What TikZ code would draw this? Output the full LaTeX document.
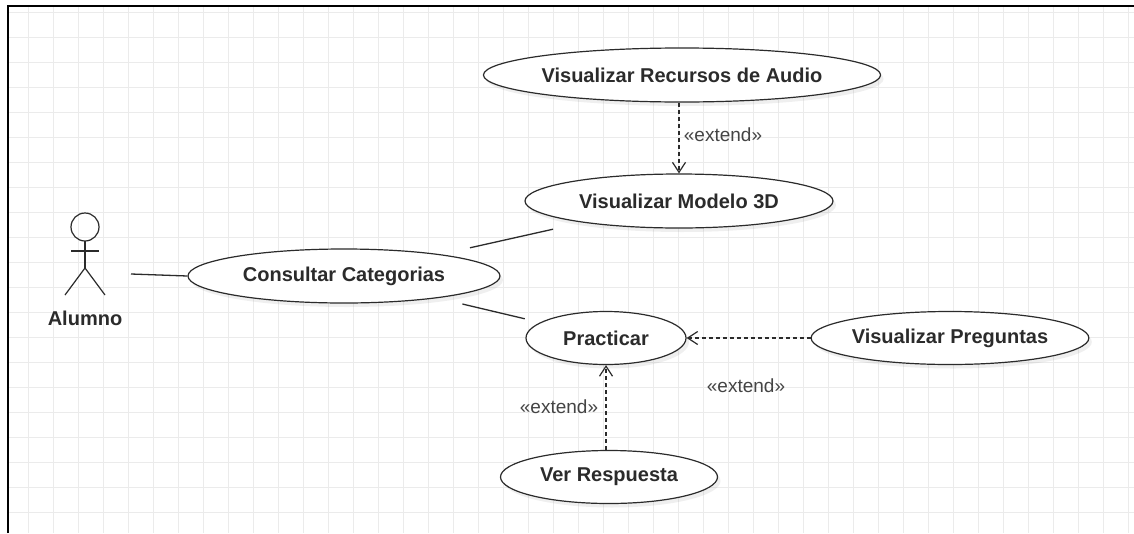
\documentclass[tikz,border=0pt]{standalone}
\usepackage{fontspec}
\setmainfont{Liberation Sans}
\usetikzlibrary{shapes.geometric,arrows.meta,calc,shadows}
\definecolor{gridc}{HTML}{EBEBEB}
\definecolor{ink}{HTML}{2B2B2B}
\definecolor{labc}{HTML}{444444}
\begin{document}
\begin{tikzpicture}[x=1pt,y=-1pt,
  uc/.style={ellipse, draw=ink, line width=1.2pt, fill=white, inner sep=0pt,
    font=\fontsize{20}{24}\selectfont\bfseries, text=ink,
    drop shadow={shadow xshift=3pt, shadow yshift=-4pt, opacity=0.12}},
  extlabel/.style={font=\fontsize{19}{22}\selectfont, text=labc, inner sep=0pt},
  extarrow/.style={draw=ink, line width=1.2pt, dash pattern=on 4pt off 3pt,
    -{Straight Barb[length=10pt,width=13pt,line width=1.2pt]}},
  assoc/.style={draw=ink, line width=1.3pt},
  actorline/.style={draw=ink, line width=1.2pt}]
\useasboundingbox (0,0) rectangle (1134,533);
\fill[white] (0,0) rectangle (1134,533);
% grid
\foreach \x in {28,53,...,1128} \draw[gridc, line width=1pt] (\x,7) -- (\x,533);
\foreach \y in {12,37,...,512} \draw[gridc, line width=1pt] (9,\y) -- (1134,\y);
% frame
\draw[black, line width=2pt] (8,533) -- (8,6) -- (1134,6);

% use cases
\node[uc, minimum width=390pt, minimum height=54pt] (aud) at (682,75) {Visualizar Recursos de Audio};
\node[uc, minimum width=308pt, minimum height=54pt] (mod) at (679,201) {Visualizar Modelo 3D};
\node[uc, minimum width=312pt, minimum height=54pt] (cons) at (344,276) {Consultar Categorias};
\node[uc, minimum width=160pt, minimum height=53pt] (prac) at (606,338) {Practicar};
\node[uc, minimum width=276pt, minimum height=53pt] (preg) at (950,338) {Visualizar Preguntas};
\node[uc, minimum width=217pt, minimum height=53pt] (ver) at (609,477) {Ver Respuesta};

% actor
\draw[actorline] (85,227) circle[radius=14];
\draw[actorline] (71,251) -- (99,251);
\draw[actorline] (85,241) -- (85,268);
\draw[actorline] (65,295) -- (85,268) -- (105,295);
\node[font=\fontsize{20}{24}\selectfont\bfseries, text=ink] (alumno) at (85,318) {Alumno};
\coordinate (actR) at (131,274);

% associations
\draw[assoc] (actR) -- (cons.west);
\draw[assoc] ($(cons)!0.376!(mod)$) -- ($(cons)!0.624!(mod)$);
\draw[assoc] ($(cons)!0.452!(prac)$) -- ($(cons)!0.69!(prac)$);

% extends
\draw[extarrow] (aud.south -| mod.north) -- (mod.north);
\draw[extarrow] (preg.west) -- (prac.east);
\draw[extarrow] (ver.north -| prac.south) -- (prac.south);

\node[extlabel] (l1) at (723,135) {«extend»};
\node[extlabel] (l2) at (746,386) {«extend»};
\node[extlabel] (l3) at (559,407) {«extend»};
\end{tikzpicture}
\end{document}
